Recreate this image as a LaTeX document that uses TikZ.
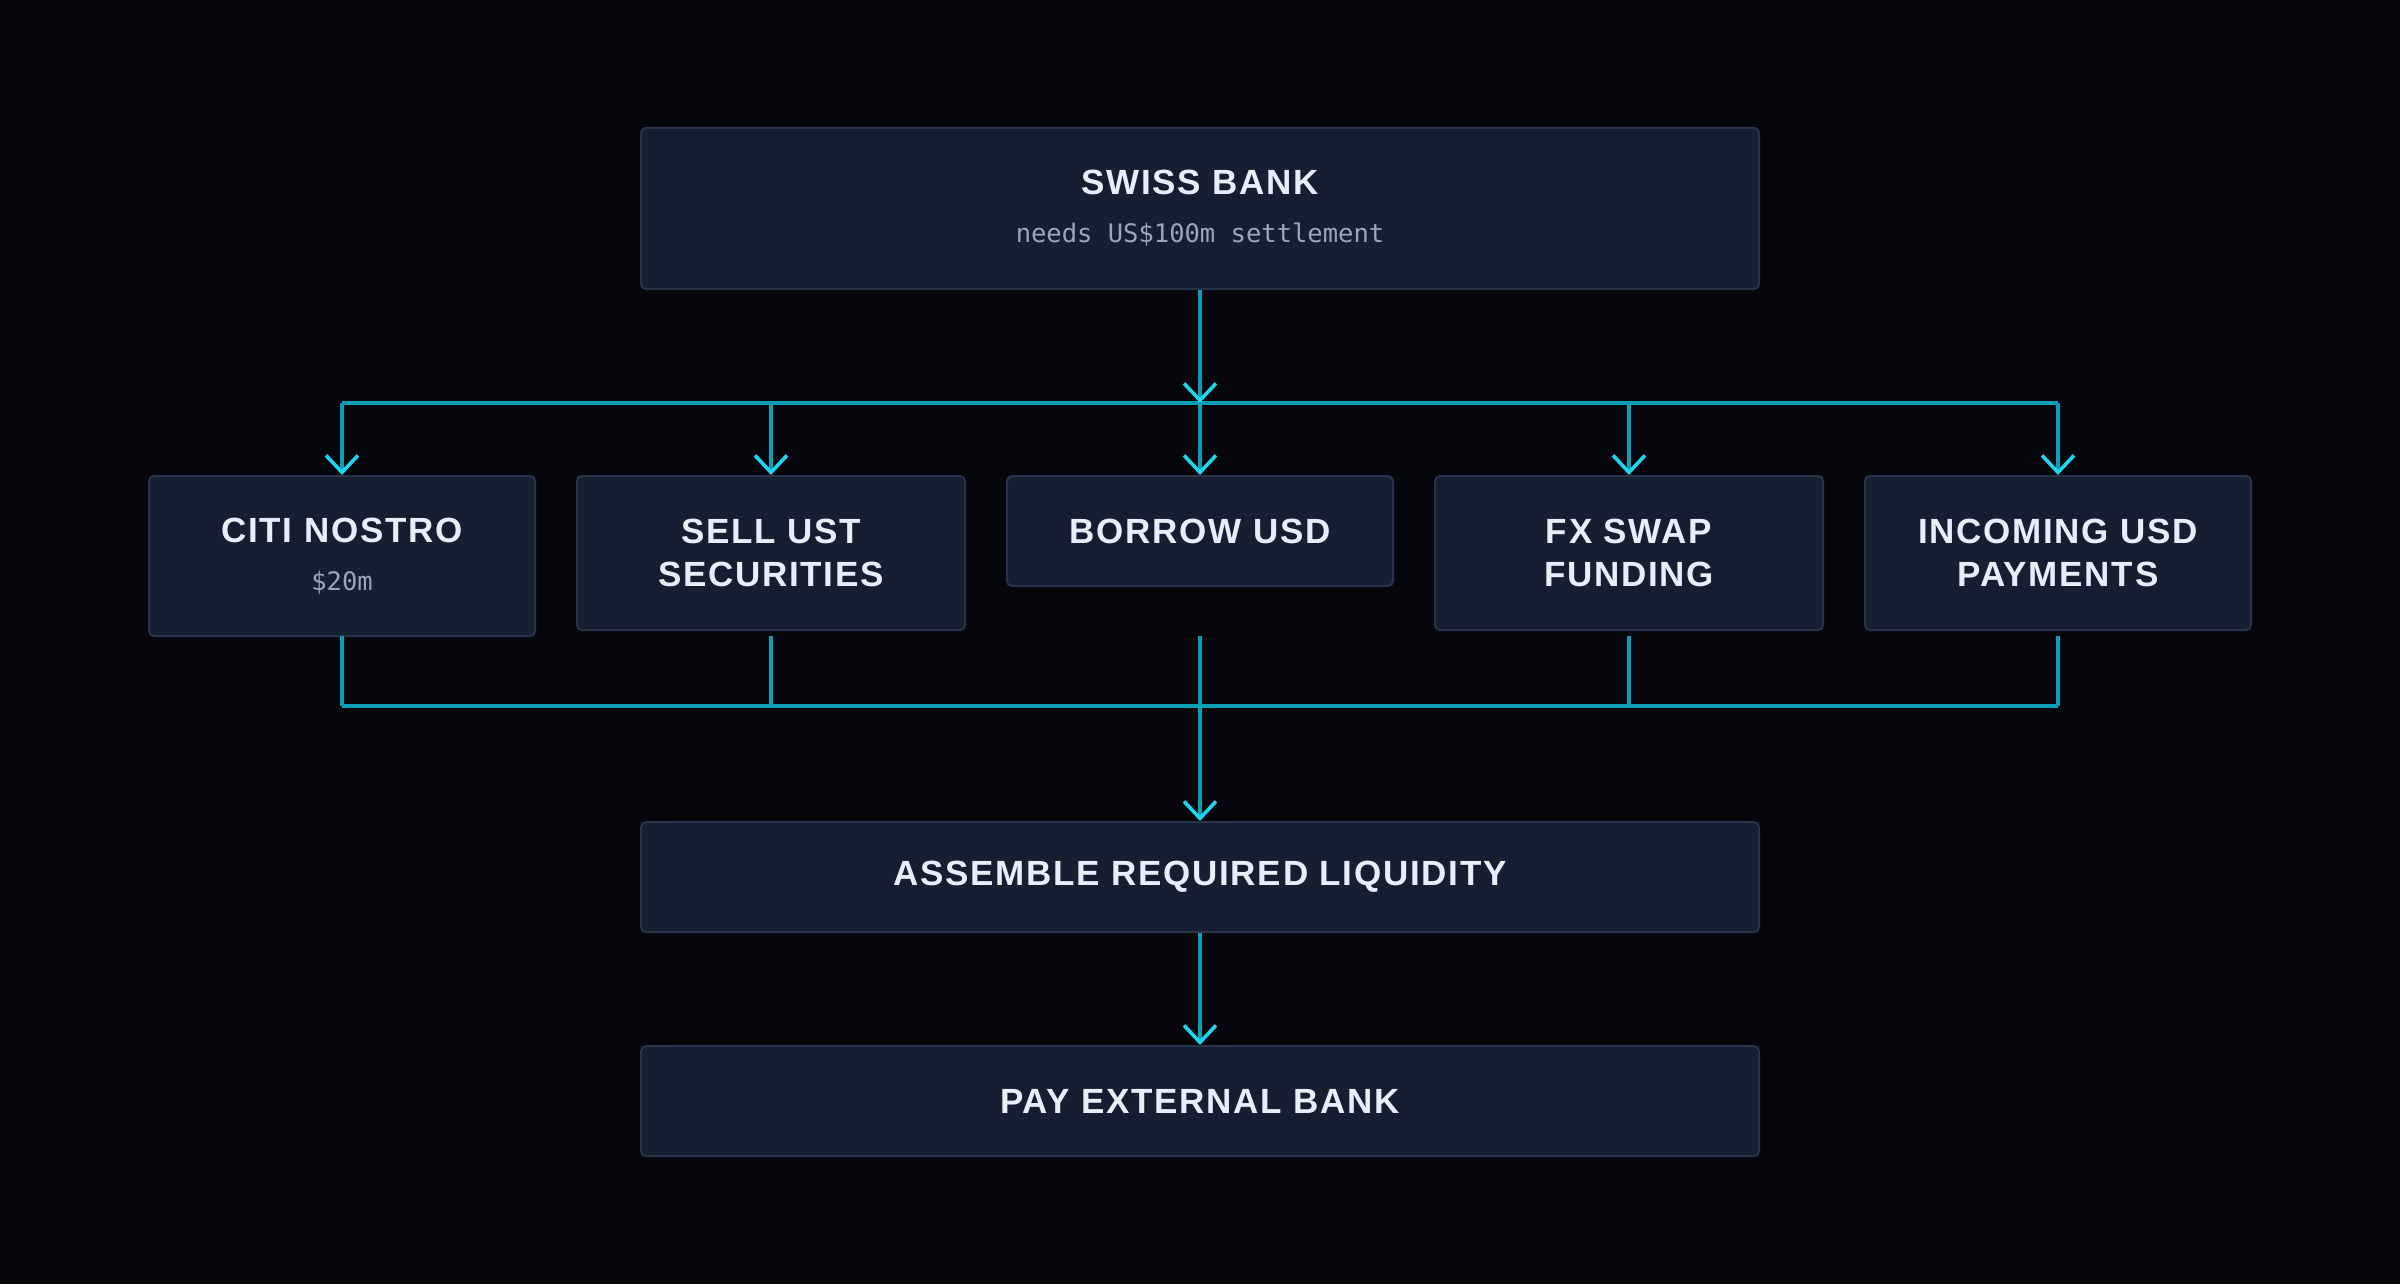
\documentclass[tikz,border=0pt]{standalone}
\usepackage{fontspec}
\usetikzlibrary{arrows.meta}
\newfontfamily\tfont[LetterSpace=5]{Liberation Sans}
\newfontfamily\mfont{DejaVu Sans Mono}
\definecolor{bgc}{HTML}{05070C}
\definecolor{boxfill}{HTML}{161E31}
\definecolor{boxline}{HTML}{28324A}
\definecolor{titlec}{HTML}{E8EEFA}
\definecolor{subc}{HTML}{9AA4BA}
\definecolor{linec}{HTML}{0E9DB6}
\definecolor{arrowc}{HTML}{22D3EE}
\newcommand{\subtxt}[1]{{\mfont\mdseries\fontsize{25.5}{30}\selectfont\color{subc}#1}}
\begin{document}
\begin{tikzpicture}[x=1pt,y=-1pt,
  card/.style={draw=boxline, line width=2pt, fill=boxfill, rounded corners=5pt,
    inner sep=0pt, align=center, text=titlec,
    font=\tfont\bfseries\fontsize{35}{43}\selectfont},
  wire/.style={draw=linec, line width=3.2pt},
  arr/.style={wire, -{Straight Barb[length=17pt,width=32pt,line width=3.6pt,color=arrowc]}}
]
\useasboundingbox (0,0) rectangle (2400,1284);
\fill[bgc] (0,0) rectangle (2400,1284);

\node[card, minimum width=1118pt, minimum height=161pt] (swiss) at (1200,208.5)
  {SWISS BANK\\[5pt]\subtxt{needs US\$100m settlement}};

\node[card, anchor=north, minimum width=386pt, minimum height=160pt] (citi) at (342,475)
  {CITI NOSTRO\\[5pt]\subtxt{\$20m}};
\node[card, anchor=north, minimum width=388pt, minimum height=154pt] (sell) at (771,475)
  {SELL UST\\SECURITIES};
\node[card, anchor=north, minimum width=386pt, minimum height=110pt] (borrow) at (1200,475)
  {BORROW USD};
\node[card, anchor=north, minimum width=388pt, minimum height=154pt] (fx) at (1629,475)
  {FX SWAP\\FUNDING};
\node[card, anchor=north, minimum width=386pt, minimum height=154pt] (inc) at (2058,475)
  {INCOMING USD\\PAYMENTS};

\node[card, anchor=north, minimum width=1118pt, minimum height=110pt] (assemble) at (1200,821)
  {ASSEMBLE REQUIRED LIQUIDITY};
\node[card, anchor=north, minimum width=1118pt, minimum height=110pt] (pay) at (1200,1045)
  {PAY EXTERNAL BANK};

\coordinate (busT) at (1200,403);
\coordinate (lowS) at (1200,636);
\coordinate (busB) at (1200,706);

% top distribution
\draw[wire] (citi.north |- busT) -- (inc.north |- busT);
\draw[arr] (swiss.south) -- (busT);
\foreach \n in {citi,sell,borrow,fx,inc}
  \draw[arr] (\n.north |- busT) -- (\n.north);

% bottom collection
\foreach \n in {citi,sell,borrow,fx,inc}
  \draw[wire] (\n.south |- lowS) -- (\n.south |- busB);
\draw[wire] (citi.south |- busB) -- (inc.south |- busB);
\draw[arr] (busB) -- (assemble.north);
\draw[arr] (assemble.south) -- (pay.north);
\end{tikzpicture}
\end{document}
